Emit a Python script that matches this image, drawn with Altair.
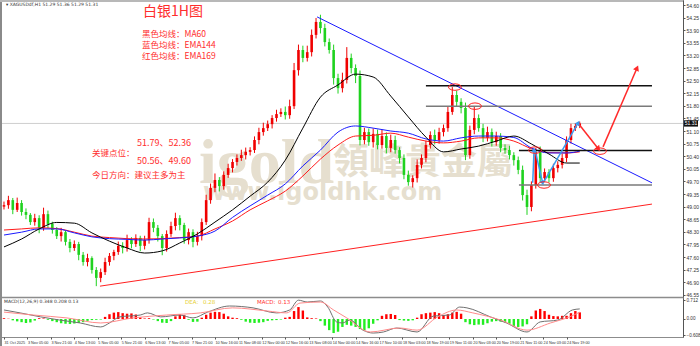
import altair as alt
import pandas as pd

# ---------------- data ----------------
STEP = 3                      # hours per drawn candle
first_open = 49.00
closes = [
    49.04, 49.18, 48.91, 49.10, 48.85, 48.77, 48.57, 48.68, 48.41, 48.79,
    48.52, 48.35, 48.18, 48.29, 48.02, 47.85, 47.96, 47.66, 47.46, 47.57,
    47.24, 47.02, 47.18, 47.46, 47.63, 47.74, 47.91, 47.85, 48.07, 47.96,
    48.13, 47.91, 48.07, 48.57, 48.41, 48.18, 47.85, 48.24, 48.46, 48.68,
    48.49, 48.07, 48.29, 48.02, 48.18, 48.57, 49.18, 49.52, 49.74, 49.57,
    49.88, 50.07, 50.24, 50.35, 50.43, 50.52, 50.57, 50.85, 51.07, 51.18,
    51.29, 51.46, 51.57, 51.63, 51.54, 51.79, 52.79, 53.35, 53.13, 53.29,
    53.77, 54.13, 53.96, 53.57, 53.35, 52.57, 52.29, 52.52, 53.13, 52.85,
    52.63, 50.85, 51.07, 50.79, 51.02, 50.71, 50.96, 50.63, 50.85, 50.57,
    50.35, 49.88, 49.68, 49.79, 50.16, 50.35, 50.71, 50.99, 50.85, 51.07,
    51.18, 51.63, 52.10, 51.91, 51.74, 50.43, 51.13, 51.46, 51.18, 50.91,
    51.07, 50.79, 50.96, 50.63, 50.57, 50.43, 50.29, 50.02, 49.32, 48.99,
    49.60, 50.52, 49.79, 49.96, 49.79, 50.07, 50.16, 50.35, 50.85, 51.18,
    51.24, 51.31]
wick_up = [
    0.10, 0.12, 0.06, 0.15, 0.08, 0.10, 0.05, 0.12, 0.08, 0.18,
    0.10, 0.06, 0.08, 0.12, 0.05, 0.08, 0.10, 0.06, 0.08, 0.12,
    0.05, 0.08, 0.10, 0.12, 0.08, 0.06, 0.12, 0.10, 0.15, 0.08,
    0.10, 0.06, 0.12, 0.12, 0.10, 0.08, 0.06, 0.10, 0.12, 0.15,
    0.08, 0.06, 0.10, 0.08, 0.12, 0.10, 0.15, 0.12, 0.18, 0.08,
    0.10, 0.12, 0.08, 0.10, 0.15, 0.12, 0.08, 0.10, 0.12, 0.15,
    0.10, 0.08, 0.12, 0.10, 0.15, 0.18, 0.20, 0.15, 0.12, 0.18,
    0.15, 0.11, 0.20, 0.12, 0.10, 0.15, 0.12, 0.20, 0.30, 0.12,
    0.10, 0.15, 0.12, 0.10, 0.15, 0.12, 0.18, 0.10, 0.15, 0.12,
    0.08, 0.10, 0.12, 0.08, 0.15, 0.10, 0.12, 0.10, 0.15, 0.12,
    0.10, 0.15, 0.22, 0.12, 0.10, 0.15, 0.12, 0.33, 0.10, 0.12,
    0.15, 0.10, 0.12, 0.08, 0.10, 0.12, 0.08, 0.10, 0.12, 0.15,
    0.10, 0.11, 0.15, 0.10, 0.08, 0.12, 0.10, 0.12, 0.10, 0.12,
    0.08, 0.05]
wick_dn = [
    0.08, 0.10, 0.12, 0.06, 0.10, 0.12, 0.08, 0.10, 0.15, 0.08,
    0.12, 0.10, 0.08, 0.15, 0.10, 0.12, 0.08, 0.15, 0.10, 0.12,
    0.10, 0.23, 0.12, 0.08, 0.10, 0.12, 0.08, 0.15, 0.10, 0.12,
    0.08, 0.15, 0.10, 0.10, 0.12, 0.15, 0.20, 0.10, 0.08, 0.12,
    0.15, 0.10, 0.12, 0.15, 0.10, 0.12, 0.08, 0.10, 0.12, 0.15,
    0.10, 0.08, 0.12, 0.10, 0.08, 0.12, 0.10, 0.08, 0.12, 0.10,
    0.08, 0.12, 0.10, 0.08, 0.12, 0.10, 0.08, 0.15, 0.12, 0.10,
    0.12, 0.10, 0.15, 0.12, 0.10, 0.18, 0.15, 0.12, 0.10, 0.15,
    0.20, 0.15, 0.12, 0.10, 0.15, 0.12, 0.10, 0.15, 0.12, 0.10,
    0.15, 0.12, 0.10, 0.15, 0.12, 0.10, 0.12, 0.10, 0.12, 0.10,
    0.12, 0.10, 0.08, 0.12, 0.15, 0.14, 0.10, 0.12, 0.10, 0.12,
    0.10, 0.12, 0.10, 0.12, 0.10, 0.12, 0.15, 0.12, 0.15, 0.22,
    0.12, 0.10, 0.12, 0.10, 0.12, 0.10, 0.12, 0.10, 0.12, 0.10,
    0.08, 0.06]

ma_t = [0, 12, 24, 36, 48, 60, 72, 84, 96, 108, 120, 132, 144, 156, 168, 180, 192,
        204, 216, 228, 240, 252, 264, 276, 288, 300, 312, 324, 336, 348, 360, 372, 384, 393]
ma60 = [47.88, 48.10, 48.38, 48.56, 48.54, 48.27, 48.04, 47.85, 47.71, 47.77, 47.99, 48.24,
        48.57, 48.91, 49.29, 49.68, 50.29, 51.18, 52.04, 52.38, 52.68, 52.60, 52.07, 51.49,
        50.93, 50.52, 50.60, 50.68, 50.82, 50.96, 50.74, 50.46, 50.21, 50.21]
ema144 = [48.21, 48.29, 48.38, 48.38, 48.27, 48.16, 48.11, 48.09, 48.07, 48.10, 48.13, 48.18,
          48.32, 48.70, 49.02, 49.32, 49.63, 50.13, 50.57, 51.07, 51.24, 51.18, 51.10, 51.04,
          50.88, 50.82, 50.91, 50.96, 50.96, 50.92, 50.63, 50.49, 50.49, 50.54]
ema169 = [48.35, 48.38, 48.41, 48.39, 48.29, 48.18, 48.14, 48.11, 48.10, 48.11, 48.14, 48.18,
          48.38, 48.60, 48.91, 49.16, 49.43, 49.85, 50.32, 50.71, 50.96, 50.98, 51.04, 50.93,
          50.82, 50.77, 50.82, 50.91, 50.91, 50.82, 50.61, 50.50, 50.49, 50.52]

hist = [
    0.03, 0.01, -0.05, -0.09, -0.12, -0.15, -0.13, -0.06, 0.03, 0.02,
    -0.03, -0.08, -0.12, -0.16, -0.18, -0.19, -0.17, -0.15, -0.12, -0.07,
    -0.04, -0.03, -0.02, 0.08, 0.18, 0.24, 0.26, 0.22, 0.20, 0.21,
    0.17, 0.06, 0.02, 0.03, -0.02, -0.08, -0.14, -0.15, -0.08, 0.10,
    0.18, 0.14, -0.03, -0.11, -0.10, 0.05, 0.16, 0.24, 0.27, 0.26,
    0.20, 0.10, 0.05, 0.03, -0.03, -0.10, -0.14, -0.15, -0.14, -0.12,
    -0.07, -0.05, -0.04, -0.02, 0.05, 0.08, 0.30, 0.45, 0.32, 0.06,
    0.03, 0.02, -0.08, -0.25, -0.42, -0.53, -0.48, -0.30, -0.22, -0.25,
    -0.30, -0.38, -0.42, -0.35, -0.18, -0.05, 0.12, 0.18, 0.19, 0.15,
    -0.04, -0.06, -0.07, -0.05, 0.05, 0.18, 0.22, 0.24, 0.26, 0.22,
    0.15, 0.18, 0.24, 0.27, 0.20, -0.12, -0.20, -0.23, -0.21, -0.22,
    -0.16, -0.10, -0.08, -0.10, -0.12, -0.18, -0.26, -0.30, -0.28, -0.20,
    0.10, 0.32, 0.38, 0.30, 0.16, 0.11, 0.10, 0.12, 0.12, 0.22,
    0.30, 0.25]
dif_t = [0, 11, 25, 38, 52, 66, 72, 79, 93, 98, 107, 120, 129, 139, 154, 170, 186, 195, 201, 207,
         216, 221, 227, 231, 236, 245, 252, 259, 268, 282, 293, 304, 311, 316, 332, 343, 357, 366,
         378, 388, 393]
dif_v = [0.34, 0.23, 0.08, -0.04, -0.15, -0.30, -0.15, 0.08, 0.15, 0.23, 0.08, 0.15, 0.04, 0.26,
         0.49, 0.42, 0.23, 0.34, 0.71, 0.64, 0.68, 0.45, -0.11, -0.15, -0.04, -0.42, -0.53, -0.49,
         -0.34, -0.49, 0.11, 0.15, 0.45, 0.42, 0.08, -0.15, -0.49, -0.11, -0.04, 0.34, 0.38]
dea_t = [0, 20, 43, 66, 88, 111, 134, 156, 180, 193, 202, 216, 225, 234, 250, 270, 282, 296, 309,
         320, 339, 357, 373, 386, 393]
dea_v = [0.26, 0.15, 0.04, -0.15, 0.04, 0.15, 0.23, 0.42, 0.30, 0.23, 0.60, 0.64, 0.34, 0.04,
         -0.49, -0.34, -0.42, 0.08, 0.34, 0.23, -0.04, -0.42, -0.15, 0.08, 0.26]

price_ticks = [46.55, 46.90, 47.25, 47.60, 47.95, 48.30, 48.65, 49.00, 49.35, 49.70, 50.05, 50.40,
               50.75, 51.10, 51.45, 51.80, 52.15, 52.50, 52.85, 53.20, 53.55, 53.90, 54.25, 54.60]
macd_ticks = [0.712, 0.0, -0.608]
xlab_t = [0, 16, 32, 48, 64, 80, 96, 112, 128, 144, 160, 176, 192, 208, 224, 240, 256, 272, 288,
          304, 320, 336, 352, 368, 384]
xlab_txt = ["31 Oct 2025", "3 Nov 05:00", "3 Nov 21:00", "4 Nov 13:00", "5 Nov 05:00",
            "5 Nov 21:00", "6 Nov 13:00", "7 Nov 05:00", "7 Nov 21:00", "10 Nov 16:00",
            "11 Nov 08:00", "12 Nov 00:00", "12 Nov 16:00", "13 Nov 08:00", "14 Nov 00:00",
            "14 Nov 16:00", "17 Nov 10:00", "18 Nov 03:00", "18 Nov 19:00", "19 Nov 11:00",
            "20 Nov 03:00", "20 Nov 19:00", "21 Nov 11:00", "24 Nov 03:00", "24 Nov 19:00"]
current_price = 51.31

# drawn analysis objects (data units: bar index, price)
resist_t = [213.7, 442.3]
resist_p = [54.27, 49.66]
support_t = [65.5, 442.3]
support_p = [46.79, 49.07]
level_p = [52.36, 51.79, 50.56, 49.60]
level_t0 = [288, 288, 351.5, 351.5]
level_t1 = 442.3
level_color = ["#111111", "#7a7a7a", "#111111", "#7a7a7a"]
blue_path_t = [[360.9, 361.8], [362.5, 367.7], [368.1, 392.0]]
blue_path_p = [[49.66, 50.57], [50.57, 49.66], [49.66, 51.33]]
blue_dir = [2, 167, 30]
red_path_t = [[391.8, 405.8], [408.9, 432.1]]
red_path_p = [[51.32, 50.60], [50.66, 52.85]]
red_dir = [140, 23]
mark_t = [307.8, 321.5, 362.5, 368.6, 406.8]
mark_p = [52.32, 51.79, 50.57, 49.60, 50.54]

UP, DOWN = "#f00000", "#1fd21f"
HUP, HDOWN = "#ff0000", "#22ee22"

# ---------------- tables ----------------
rows = []
o = first_open
for k, c in enumerate(closes):
    rows.append(dict(t=k * STEP, bt=max(o, c), bb=min(o, c),
                     hi=max(o, c) + wick_up[k], lo=min(o, c) - wick_dn[k],
                     col=UP if c >= o else DOWN))
    o = c
candles = pd.DataFrame(rows)
ma_df = pd.DataFrame({"t": ma_t, "ma60": ma60, "ema144": ema144, "ema169": ema169})
hist_df = pd.DataFrame({"t": [k * STEP for k in range(len(hist))], "h": hist, "z": 0.0,
                        "col": [HUP if v >= 0 else HDOWN for v in hist]})
dif_df = pd.DataFrame({"t": dif_t, "v": dif_v})
dea_df = pd.DataFrame({"t": dea_t, "v": dea_v})
resist_df = pd.DataFrame({"t": resist_t, "p": resist_p})
support_df = pd.DataFrame({"t": support_t, "p": support_p})
level_df = pd.DataFrame({"t0": level_t0, "t1": level_t1, "p": level_p, "col": level_color})


def path_df(ts_list, ps_list):
    return pd.DataFrame([dict(t=t, p=p, id=i) for i, (ts, ps) in enumerate(zip(ts_list, ps_list))
                         for t, p in zip(ts, ps)])


def head_df(ts_list, ps_list, dirs):
    return pd.DataFrame({"t": [ts[-1] for ts in ts_list], "p": [ps[-1] for ps in ps_list],
                         "ang": dirs})


blue_df = path_df(blue_path_t, blue_path_p)
red_df = path_df(red_path_t, red_path_p)
bhead_df = head_df(blue_path_t, blue_path_p, blue_dir)
rhead_df = head_df(red_path_t, red_path_p, red_dir)
marks_df = pd.DataFrame({"t": mark_t, "p": mark_p})
cur_df = pd.DataFrame({"p": [current_price], "s": [f"{current_price:.2f}"]})

# ---------------- layout (single view, two stacked y ranges) ----------------
W = 683          # plot width
MAIN_BOTTOM = 297
MACD_TOP, MACD_BOTTOM = 298, 337
xscale = alt.Scale(domain=[-2.73, 463.48], nice=False, zero=False)
yscale = alt.Scale(domain=[46.489, 54.739], range=[MAIN_BOTTOM, 0], nice=False, zero=False)
mscale = alt.Scale(domain=[-0.679, 0.792], range=[MACD_BOTTOM, MACD_TOP], nice=False, zero=False)

label_js = "[" + ",".join(f"'{s}'" for s in xlab_txt) + "]"
xaxis = alt.Axis(values=xlab_t, labelExpr=f"{label_js}[round(datum.value/16)]",
                 labelFontSize=3.8, labelFont="Liberation Sans", labelColor="#333333",
                 labelAlign="left", tickSize=2, tickColor="#555555", labelPadding=1,
                 domain=False, grid=False, labelOverlap=False, labelBound=False,
                 labelFlush=False, title=None)
yaxis = alt.Axis(orient="right", values=price_ticks, format=".2f", labelFontSize=5,
                 labelFont="Liberation Sans", labelColor="#333333", tickSize=2, labelPadding=1,
                 tickColor="#555555", domainColor="#555555", grid=False, title=None,
                 labelOverlap=False, labelBound=False, labelFlush=False)
maxis = alt.Axis(orient="right", values=macd_ticks,
                 labelExpr="datum.value == 0 ? '0.00' : format(datum.value, '.3f')",
                 labelFontSize=4.6, labelFont="Liberation Sans", labelColor="#333333",
                 tickSize=2, labelPadding=1, tickColor="#555555", domainColor="#555555",
                 grid=False, title=None, labelOverlap=False, labelBound=False, labelFlush=False)


def X(f="t"):
    return alt.X(f"{f}:Q", scale=xscale, axis=xaxis)


def Y(f="p"):
    return alt.Y(f"{f}:Q", scale=yscale, axis=yaxis)


def MY(f):
    return alt.Y(f"{f}:Q", scale=mscale, axis=maxis)


CJK = "Noto Sans CJK SC"
RED = "#ff2d2d"


def label(text, x, y, size, color=RED, font=CJK, weight="normal", align="left",
          baseline="middle"):
    return alt.Chart(pd.DataFrame({"s": [text]})).mark_text(
        font=font, fontSize=size, color=color, fontWeight=weight, align=align,
        baseline=baseline).encode(x=alt.value(x), y=alt.value(y), text="s:N")


def frame(x=None, x2=None, y=None, y2=None, color="#8a8a8a", width=2):
    enc = {k: alt.value(v) for k, v in dict(x=x, x2=x2, y=y, y2=y2).items() if v is not None}
    return alt.Chart(pd.DataFrame({"a": [0]})).mark_rule(color=color, strokeWidth=width).encode(
        **enc)


WM = "#e6dfcf"
watermark = [
    label("igold", 199, 183, 64, color=WM, font="Liberation Serif", weight="bold",
          baseline="alphabetic"),
    label("領峰貴金屬", 333, 163, 36, color=WM, font="Noto Sans CJK TC", weight="bold"),
    label("www.igoldhk.com", 203, 200, 24, color=WM, font="DejaVu Sans", weight="bold",
          baseline="alphabetic"),
]

cur_line = alt.Chart(cur_df).mark_rule(color="#cfcfcf", strokeWidth=1).encode(y=Y())
wicks = alt.Chart(candles).mark_rule(strokeWidth=1).encode(
    x=X(), y=Y("lo"), y2="hi", color=alt.Color("col:N", scale=None))
bodies = alt.Chart(candles).mark_rule(strokeWidth=2.6).encode(
    x=X(), y=Y("bb"), y2="bt", color=alt.Color("col:N", scale=None))


def ma_line(field, color):
    return alt.Chart(ma_df).mark_line(color=color, strokeWidth=1, interpolate="monotone").encode(
        x=X(), y=Y(field))


resist = alt.Chart(resist_df).mark_line(color="#1a1aff", strokeWidth=1).encode(x=X(), y=Y())
support = alt.Chart(support_df).mark_line(color="#ff2020", strokeWidth=1).encode(x=X(), y=Y())
levels = alt.Chart(level_df).mark_rule(strokeWidth=1.5).encode(
    x=X("t0"), x2="t1", y=Y(), color=alt.Color("col:N", scale=None))
BLUE_ARROW = "#3a9af0"
RED_ARROW = "#ff2a2a"
blue_paths = alt.Chart(blue_df).mark_line(color=BLUE_ARROW, strokeWidth=1.5).encode(
    x=X(), y=Y(), detail="id:N")
red_paths = alt.Chart(red_df).mark_line(color=RED_ARROW, strokeWidth=1.5).encode(
    x=X(), y=Y(), detail="id:N")
bheads = alt.Chart(bhead_df).mark_point(shape="triangle-up", size=30, filled=True,
                                        color=BLUE_ARROW, opacity=1).encode(
    x=X(), y=Y(), angle=alt.Angle("ang:Q", scale=None))
rheads = alt.Chart(rhead_df).mark_point(shape="triangle-up", size=40, filled=True,
                                        color=RED_ARROW, opacity=1).encode(
    x=X(), y=Y(), angle=alt.Angle("ang:Q", scale=None))
ELLIPSE = ("M1,0L0.866,0.25L0.5,0.433L0,0.5L-0.5,0.433L-0.866,0.25L-1,0L-0.866,-0.25"
           "L-0.5,-0.433L0,-0.5L0.5,-0.433L0.866,-0.25Z")
rings = alt.Chart(marks_df).mark_point(shape=ELLIPSE, size=169, filled=False, color="#ff2020",
                                       strokeWidth=1, opacity=1).encode(x=X(), y=Y())
cur_box = alt.Chart(cur_df).mark_point(shape="M-1,-0.45L1,-0.45L1,0.45L-1,0.45Z", size=196,
                                       filled=True, color="#111111", opacity=1).encode(
    x=alt.value(W + 8), y=Y())
cur_txt = alt.Chart(cur_df).mark_text(fontSize=5, color="white", font="Liberation Sans").encode(
    x=alt.value(W + 8), y=Y(), text="s:N")

texts = [
    label("▾ XAGUSDdf,H1  51.29 51.36 51.29 51.31", 6, 4.5, 4.5, color="#333333",
          font="DejaVu Sans"),
    label("白银1H图", 143, 12.3, 14),
    label("黑色均线：MA60", 142, 33.5, 8.5),
    label("蓝色均线：EMA144", 142, 44.5, 8.5),
    label("红色均线：EMA169", 142, 55.5, 8.5),
    label("51.79、52.36", 137, 143, 9),
    label("关键点位：", 92, 153, 8.5),
    label("50.56、49.60", 137, 161, 9),
    label("今日方向：建议主多为主", 92, 175, 8.5),
]

main_layer = alt.layer(
    *watermark, cur_line, wicks, bodies,
    ma_line("ema169", "#ff1a1a"), ma_line("ema144", "#1a1aff"), ma_line("ma60", "#000000"),
    resist, support, levels, blue_paths, red_paths, bheads, rheads, rings, cur_box, cur_txt,
    *texts
)

# ---------------- MACD ----------------
histo = alt.Chart(hist_df).mark_rule(strokeWidth=2.4).encode(
    x=X(), y=MY("z"), y2="h", color=alt.Color("col:N", scale=None))
dif_line = alt.Chart(dif_df).mark_line(color="#707070", strokeWidth=1,
                                       interpolate="monotone").encode(x=X(), y=MY("v"))
dea_line = alt.Chart(dea_df).mark_line(color="#ff8a8a", strokeWidth=1,
                                       interpolate="monotone").encode(x=X(), y=MY("v"))
mtexts = [
    label("MACD(12,26,9) 0.348 0.208 0.13", 4, 301.5, 4.5, color="#333333", font="DejaVu Sans"),
    label("DEA:", 185, 302, 5.5, color="#e6cf30", font="DejaVu Sans"),
    label("0.28", 203, 302, 5.5, color="#e6cf30", font="DejaVu Sans"),
    label("MACD:", 257, 302, 5.5, color="#ff3030", font="DejaVu Sans"),
    label("0.13", 278, 302, 5.5, color="#ff3030", font="DejaVu Sans"),
]
macd_layer = alt.layer(histo, dif_line, dea_line, *mtexts)

frames = [
    frame(y=MAIN_BOTTOM + 0.5, x=0, x2=W, color="#8c8c8c", width=1.5),
    frame(x=1, y=0, y2=346),
    frame(y=1, x=0, x2=W, color="#b8b8b8"),
]

chart = alt.layer(main_layer, macd_layer, *frames).resolve_scale(y="independent").properties(
    width=W, height=MACD_BOTTOM,
    autosize=alt.AutoSizeParams(type="none"),
    padding={"left": 0, "top": 0, "right": 17, "bottom": 9},
    background="white",
).configure_view(stroke="#8c8c8c", strokeWidth=1)

chart.save("out.html", embed_options={"renderer": "svg", "actions": False})
